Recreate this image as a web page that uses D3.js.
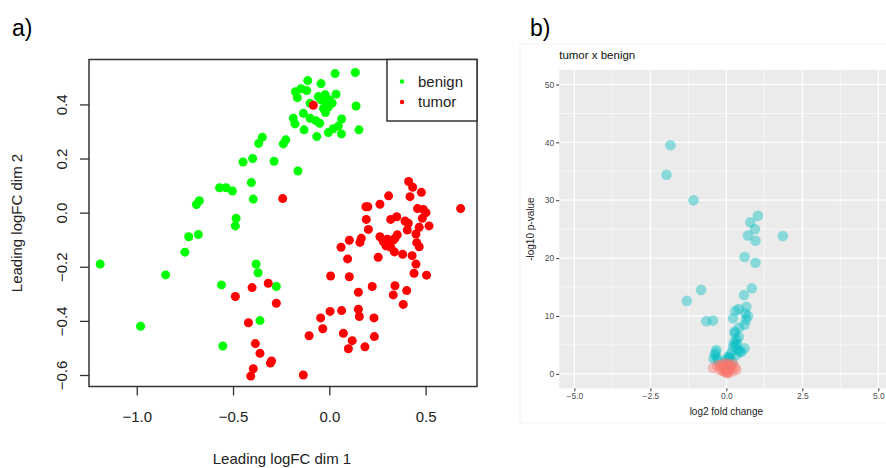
<!DOCTYPE html>
<html>
<head>
<meta charset="utf-8">
<script src="https://cdn.jsdelivr.net/npm/d3@7"></script>
<style>
  body { margin: 0; background: #fff; }
  text { font-family: "Liberation Sans", Arial, sans-serif; }
</style>
</head>
<body>
<div id="chart"></div>
<script>
// ---- panel a data (MDS plot) ----
var benignX = [-1.19,-0.98,-0.85,-0.75,-0.73,-0.68,-0.69,-0.675,-0.57,-0.536,-0.503,-0.484,-0.488,-0.405,-0.395,-0.448,-0.398,-0.287,-0.367,-0.348,-0.239,-0.226,-0.163,-0.56,-0.553,-0.38,-0.37,-0.275,-0.36,
  0.03,0.135,-0.112,-0.043,-0.176,-0.147,-0.117,-0.166,-0.057,-0.022,0.035,0.139,-0.1,-0.043,0.0,-0.03,-0.005,-0.02,-0.135,-0.187,-0.178,-0.1,-0.07,-0.05,-0.131,-0.065,-0.005,0.02,0.064,0.047,0.063,0.154,0.015,-0.015];
var benignY = [-0.19,-0.42,-0.23,-0.146,-0.089,-0.081,0.03,0.044,0.092,0.092,0.08,-0.021,-0.049,0.111,0.05,0.187,0.2,0.19,0.256,0.279,0.254,0.269,0.154,-0.267,-0.493,-0.19,-0.222,-0.273,-0.399,
  0.514,0.518,0.488,0.477,0.447,0.458,0.451,0.425,0.429,0.436,0.438,0.394,0.404,0.417,0.417,0.385,0.39,0.37,0.367,0.349,0.328,0.349,0.34,0.33,0.306,0.281,0.296,0.31,0.346,0.32,0.291,0.306,0.405,0.4];

var tumorX = [-0.083,-0.242,-0.488,-0.401,-0.317,-0.275,-0.42,-0.384,-0.36,-0.306,-0.3,-0.395,-0.408,-0.135,
  0.412,0.433,0.478,0.308,0.419,0.263,0.19,0.2,0.682,0.458,0.488,0.502,0.483,0.192,0.319,0.35,0.393,0.41,0.518,0.467,0.405,0.203,0.45,0.353,0.166,0.159,0.104,0.061,
  0.263,0.28,0.301,0.315,0.332,0.294,0.319,0.341,0.454,0.467,0.338,0.381,0.43,0.254,0.095,0.45,0.44,0.505,0.007,0.104,0.223,0.341,0.402,0.151,0.332,0.384,
  0.004,0.064,0.151,0.156,-0.045,0.232,-0.034,0.073,0.119,0.234,0.099,0.185,-0.105];
var tumorY = [0.397,0.052,-0.31,-0.277,-0.261,-0.335,-0.407,-0.484,-0.52,-0.556,-0.548,-0.577,-0.604,-0.6,
  0.115,0.094,0.075,0.062,0.059,0.031,0.022,0.022,0.015,0.015,0.012,0.0,-0.021,-0.025,-0.025,-0.015,-0.031,-0.039,-0.049,-0.054,-0.064,-0.062,-0.079,-0.082,-0.095,-0.11,-0.102,-0.128,
  -0.089,-0.107,-0.098,-0.113,-0.101,-0.123,-0.128,-0.095,-0.111,-0.126,-0.145,-0.154,-0.159,-0.165,-0.171,-0.19,-0.224,-0.231,-0.234,-0.237,-0.273,-0.27,-0.288,-0.294,-0.304,-0.339,
  -0.365,-0.362,-0.357,-0.384,-0.389,-0.389,-0.429,-0.446,-0.473,-0.458,-0.503,-0.496,-0.455];

var mdsTicksX = [-1.0, -0.5, 0.0, 0.5];
var mdsTicksY = [-0.6, -0.4, -0.2, 0.0, 0.2, 0.4];
var groups = ["benign", "tumor"];

// ---- panel b data (volcano) ----
var sigFC = [-1.84,-1.97,-1.08,1.04,0.79,0.94,0.71,0.96,1.86,0.60,0.96,-0.83,-1.30,0.84,0.58,-0.66,-0.44,0.66,0.30,0.41,0.71,0.22,0.60,0.65,0.63,0.28,0.27,0.41,0.33,0.22,0.6,0.38,0.45,-0.33,-0.38,-0.3,0.11,0.0,0.33,-0.42,0.2,
  0.25,0.3,-0.35,0.15,0.05,0.5,0.35,-0.28,0.1,0.42];
var sigP  = [39.5,34.4,30.0,27.3,26.2,25.0,23.9,23.0,23.8,20.2,19.2,14.5,12.6,14.8,13.6,9.1,9.2,11.6,10.9,11.2,10.0,9.6,8.5,9.4,10.4,7.3,7.0,6.4,5.9,4.7,4.4,4.1,3.9,4.1,3.3,2.7,3.0,2.4,3.3,2.6,2.0,
  5.4,4.9,3.7,3.6,2.9,3.8,5.2,2.3,2.6,8.0];
var nsFC = [-0.44,-0.16,0.0,0.22,0.33,-0.06,0.05,0.11,-0.22,0.16,-0.1,0.0,0.08,-0.05,0.2,-0.2,0.28,
  -0.02,0.04,-0.12,0.13,0.02,-0.08,0.1,-0.3,0.06];
var nsP  = [1.0,1.55,1.85,1.7,0.7,0.4,0.1,0.7,0.7,1.3,1.1,0.2,1.5,0.9,0.4,1.3,1.2,
  0.6,1.0,0.5,0.9,1.3,1.7,1.6,1.5,0.3];

var volTicksX = [-5.0, -2.5, 0.0, 2.5, 5.0];
var volMinorX = [-3.75, -1.25, 1.25, 3.75];
var volTicksY = [0, 10, 20, 30, 40, 50];
var volMinorY = [5, 15, 25, 35, 45];

var svg = d3.select("#chart").append("svg")
  .attr("width", 886).attr("height", 468);

// ================= panel a =================
var box = {left: 89, right: 477, top: 59.5, bottom: 386.5};
var x = d3.scaleLinear().domain([-1.248, 0.767]).range([box.left, box.right]);
var y = d3.scaleLinear().domain([-0.6425, 0.566]).range([box.bottom, box.top]);
var fmt = d3.format(".1f");

var a = svg.append("g");

a.append("text").attr("x", 12).attr("y", 36).attr("font-size", 23).text("a)");

a.append("g")
  .attr("transform", "translate(0," + box.bottom + ")")
  .call(d3.axisBottom(x).tickValues(mdsTicksX).tickFormat(fmt).tickSize(9).tickSizeOuter(0))
  .call(function(g) {
    g.select(".domain").remove();
    g.selectAll("line").attr("stroke", "#333").attr("stroke-width", 1.3);
    g.selectAll("text").attr("font-size", 15).attr("fill", "#222").attr("dy", "1.55em");
  });

a.append("g")
  .attr("transform", "translate(" + box.left + ",0)")
  .call(d3.axisLeft(y).tickValues(mdsTicksY).tickFormat(fmt).tickSize(9).tickSizeOuter(0))
  .call(function(g) {
    g.select(".domain").remove();
    g.selectAll("line").attr("stroke", "#333").attr("stroke-width", 1.3);
    g.selectAll("text")
      .attr("font-size", 15).attr("fill", "#222")
      .attr("text-anchor", "middle")
      .attr("transform", "translate(-27,0) rotate(-90)")
      .attr("x", 0).attr("y", 0)
      .attr("dy", "0.35em");
  });

a.append("rect")
  .attr("x", box.left).attr("y", box.top)
  .attr("width", box.right - box.left).attr("height", box.bottom - box.top)
  .attr("fill", "none").attr("stroke", "#333").attr("stroke-width", 1.5);

a.append("g").selectAll("circle")
  .data(d3.range(benignX.length))
  .enter().append("circle")
  .attr("cx", function(i) { return x(benignX[i]); })
  .attr("cy", function(i) { return y(benignY[i]); })
  .attr("r", 4.5)
  .attr("fill", "#00ff00");

a.append("g").selectAll("circle")
  .data(d3.range(tumorX.length))
  .enter().append("circle")
  .attr("cx", function(i) { return x(tumorX[i]); })
  .attr("cy", function(i) { return y(tumorY[i]); })
  .attr("r", 4.5)
  .attr("fill", "#ff0000");

// legend
var leg = a.append("g");
leg.append("rect")
  .attr("x", 387).attr("y", box.top)
  .attr("width", box.right - 387).attr("height", 121 - box.top)
  .attr("fill", "#fff").attr("stroke", "#333").attr("stroke-width", 1.5);
leg.selectAll("circle").data(groups).enter().append("circle")
  .attr("cx", 402)
  .attr("cy", function(d, i) { return 81.5 + i * 20.5; })
  .attr("r", 2.2)
  .attr("fill", function(d) { return d === "benign" ? "#00ff00" : "#ff0000"; });
leg.selectAll("text").data(groups).enter().append("text")
  .attr("x", 418)
  .attr("y", function(d, i) { return 81.5 + i * 20.5; })
  .attr("dy", "0.35em")
  .attr("font-size", 15).attr("fill", "#222")
  .text(function(d) { return d; });

a.append("text")
  .attr("x", 282).attr("y", 464)
  .attr("text-anchor", "middle").attr("font-size", 15).attr("fill", "#222")
  .text("Leading logFC dim 1");
a.append("text")
  .attr("transform", "translate(22," + ((box.top + box.bottom) / 2) + ") rotate(-90)")
  .attr("text-anchor", "middle").attr("font-size", 15).attr("fill", "#222")
  .text("Leading logFC dim 2");

// ================= panel b =================
var pb = {left: 559.2, right: 893.5, top: 70, bottom: 388.3};
var vx = d3.scaleLinear().domain([-5.5, 5.5]).range([pb.left, pb.right]);
var vy = d3.scaleLinear().domain([-2.5, 52.5]).range([pb.bottom, pb.top]);

var b = svg.append("g");

b.append("rect")
  .attr("x", 520).attr("y", 44).attr("width", 380).attr("height", 379)
  .attr("fill", "#fff").attr("stroke", "#f2f2f2");

b.append("text").attr("x", 530).attr("y", 36).attr("font-size", 23).text("b)");

b.append("rect")
  .attr("x", pb.left).attr("y", pb.top)
  .attr("width", pb.right - pb.left).attr("height", pb.bottom - pb.top)
  .attr("fill", "#ebebeb");

var grid = b.append("g");
grid.selectAll(".vminor").data(volMinorX).enter().append("line")
  .attr("x1", vx).attr("x2", vx).attr("y1", pb.top).attr("y2", pb.bottom)
  .attr("stroke", "#fff").attr("stroke-width", 0.6);
grid.selectAll(".hminor").data(volMinorY).enter().append("line")
  .attr("y1", vy).attr("y2", vy).attr("x1", pb.left).attr("x2", pb.right)
  .attr("stroke", "#fff").attr("stroke-width", 0.6);
grid.selectAll(".vmajor").data(volTicksX).enter().append("line")
  .attr("x1", vx).attr("x2", vx).attr("y1", pb.top).attr("y2", pb.bottom)
  .attr("stroke", "#fff").attr("stroke-width", 1.2);
grid.selectAll(".hmajor").data(volTicksY).enter().append("line")
  .attr("y1", vy).attr("y2", vy).attr("x1", pb.left).attr("x2", pb.right)
  .attr("stroke", "#fff").attr("stroke-width", 1.2);

b.append("g")
  .attr("transform", "translate(0," + pb.bottom + ")")
  .call(d3.axisBottom(vx).tickValues(volTicksX).tickFormat(fmt).tickSize(3).tickPadding(2))
  .call(function(g) {
    g.select(".domain").remove();
    g.selectAll("line").attr("stroke", "#333");
    g.selectAll("text").attr("font-size", 8.5).attr("fill", "#4d4d4d");
  });

b.append("g")
  .attr("transform", "translate(" + pb.left + ",0)")
  .call(d3.axisLeft(vy).tickValues(volTicksY).tickFormat(d3.format("d")).tickSize(3).tickPadding(2))
  .call(function(g) {
    g.select(".domain").remove();
    g.selectAll("line").attr("stroke", "#333");
    g.selectAll("text").attr("font-size", 8.5).attr("fill", "#4d4d4d");
  });

b.append("g").selectAll("circle")
  .data(d3.range(sigFC.length))
  .enter().append("circle")
  .attr("cx", function(i) { return vx(sigFC[i]); })
  .attr("cy", function(i) { return vy(sigP[i]); })
  .attr("r", 5.3)
  .attr("fill", "#00bfc4").attr("fill-opacity", 0.42);

b.append("g").selectAll("circle")
  .data(d3.range(nsFC.length))
  .enter().append("circle")
  .attr("cx", function(i) { return vx(nsFC[i]); })
  .attr("cy", function(i) { return vy(nsP[i]); })
  .attr("r", 5.3)
  .attr("fill", "#f8766d").attr("fill-opacity", 0.42);

b.append("text")
  .attr("x", pb.left).attr("y", 59)
  .attr("font-size", 11.5).attr("fill", "#111")
  .text("tumor x benign");
b.append("text")
  .attr("x", vx(0)).attr("y", 415)
  .attr("text-anchor", "middle").attr("font-size", 10).attr("fill", "#222")
  .text("log2 fold change");
b.append("text")
  .attr("transform", "translate(534," + ((pb.top + pb.bottom) / 2) + ") rotate(-90)")
  .attr("text-anchor", "middle").attr("font-size", 10).attr("fill", "#222")
  .text("-log10 p-value");
</script>
</body>
</html>
